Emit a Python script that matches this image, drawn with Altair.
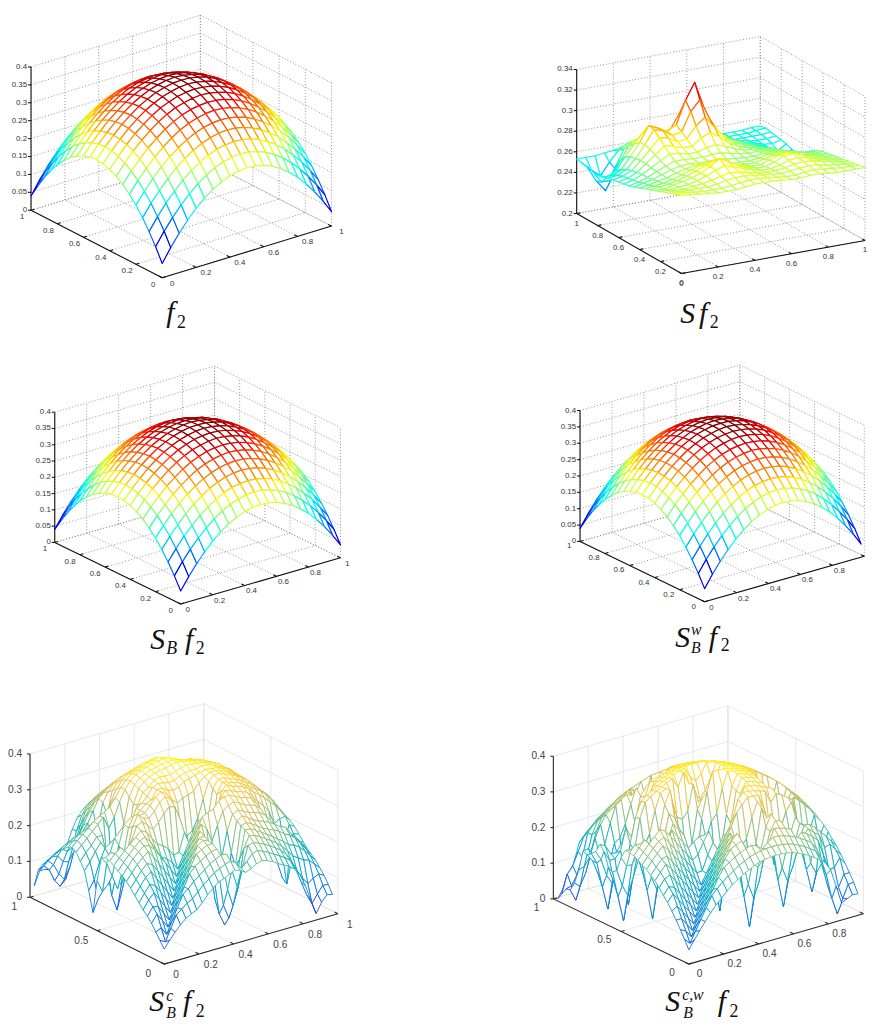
import altair as alt
import numpy as np
import pandas as pd

# ---------- surface heights, in thousandths ----------
DOME_QUAD = [
 [385,384,379,372,361,348,331,312,289,264,235],
 [384,382,377,370,359,346,329,310,287,262,233],
 [379,377,373,365,355,341,324,305,282,256,227],
 [372,370,365,358,347,333,316,296,273,247,217],
 [361,359,355,347,336,322,304,284,260,234,204],
 [348,346,341,333,322,307,289,268,244,217,186],
 [331,329,324,316,304,289,271,250,225,196,165],
 [312,310,305,296,284,268,250,227,201,172,139],
 [289,287,282,273,260,244,225,201,175,144,110],
 [264,262,256,247,234,217,196,172,144,113,77],
 [235,233,227,217,204,186,165,139,110,77,40],
]
SF2 = [
 [276,275,274,273,272,272,272,273,274,274,274,273,272,272,273,273,272,271,271,271,271],
 [274,274,273,272,272,272,273,274,275,275,274,273,272,272,273,274,273,272,271,271,270],
 [272,272,272,272,272,273,275,276,276,275,274,273,272,273,274,275,274,272,271,270,269],
 [270,270,270,271,272,274,276,278,277,275,273,272,272,273,275,276,275,273,271,269,268],
 [268,268,269,270,272,275,279,282,279,276,273,271,271,273,276,277,275,272,270,268,267],
 [266,266,268,270,272,275,280,286,281,276,272,270,270,273,277,278,275,271,269,267,266],
 [264,265,266,268,271,274,278,281,278,274,271,269,269,272,275,276,273,270,268,266,265],
 [262,263,264,266,269,272,275,276,274,271,269,268,268,270,272,273,271,268,266,265,264],
 [260,261,263,265,268,270,272,272,271,270,268,267,267,268,270,270,269,267,265,263,263],
 [258,260,262,265,268,270,271,270,270,270,269,268,267,267,268,268,267,265,263,261,261],
 [256,258,261,265,269,272,272,271,271,272,272,270,268,267,267,266,265,263,261,258,258],
 [255,257,261,266,271,276,275,273,273,276,277,274,270,267,266,264,263,261,258,252,254],
 [254,256,260,267,274,281,279,276,276,282,286,280,273,268,265,263,261,259,254,240,250],
 [253,255,259,267,276,286,284,279,280,291,298,287,276,269,265,262,259,257,250,226,246],
 [252,253,257,266,278,291,288,282,284,302,312,293,278,270,265,261,258,255,249,235,248],
 [250,250,254,265,277,292,288,283,288,310,326,300,280,270,264,260,257,254,250,245,250],
 [249,245,250,262,273,283,281,278,282,296,306,290,276,267,262,258,255,253,250,249,251],
 [250,238,238,255,268,274,274,273,275,280,284,279,271,264,259,256,254,252,251,251,252],
 [251,236,225,245,262,268,269,269,270,272,273,271,267,261,257,254,252,252,252,252,253],
 [252,244,236,248,258,263,265,265,266,267,268,266,263,258,255,253,252,252,252,253,254],
 [253,253,253,254,255,257,259,260,261,262,263,262,260,257,255,253,252,252,252,253,253],
]
SBC = [
 [42,62,80,96,110,118,125,140,158,172,185,190,198,205,200,190,196,205,210,205,198,188,180,172,160,140,105,60,18,45,62,58],
 [60,52,85,118,130,142,150,165,180,192,205,212,220,225,215,195,210,228,232,225,218,208,200,190,178,150,110,70,40,62,82,80],
 [78,85,62,95,128,161,172,188,200,212,224,232,240,238,190,140,190,245,248,242,235,226,216,205,190,165,135,110,90,100,108,100],
 [96,118,95,72,105,138,171,204,220,230,240,248,250,220,130,80,130,230,262,258,250,240,230,220,205,190,170,160,150,145,130,115],
 [110,132,128,105,82,115,148,181,214,244,252,260,260,190,80,40,85,195,272,270,262,252,242,232,220,210,195,190,180,165,148,130],
 [122,145,161,138,115,92,125,158,191,224,257,268,262,160,50,15,55,170,278,282,274,264,254,246,240,232,220,212,200,180,160,140],
 [136,158,178,171,148,125,102,135,168,201,234,267,270,195,85,45,90,200,285,295,286,275,268,262,255,245,235,228,205,190,170,150],
 [150,172,192,204,181,158,135,112,145,178,211,244,277,250,180,110,185,255,298,305,298,290,285,280,270,250,225,170,60,130,165,165],
 [165,185,205,220,214,191,168,145,122,155,188,221,254,287,270,230,270,305,318,322,315,305,300,295,280,240,200,120,70,120,185,180],
 [178,198,216,232,244,224,201,178,155,132,165,198,231,264,297,305,310,328,335,335,328,320,316,310,290,250,238,180,120,160,205,195],
 [188,208,226,242,254,250,234,211,188,165,142,175,208,241,274,280,240,265,325,342,338,330,326,320,305,285,270,250,210,220,222,205],
 [195,215,232,248,262,268,250,225,200,190,175,152,185,218,250,180,125,150,250,335,348,340,335,330,320,305,295,280,265,250,230,212],
 [205,222,238,252,266,280,272,250,230,221,208,185,190,240,190,90,30,80,200,320,350,345,340,335,325,315,305,295,280,262,240,220],
 [212,228,240,225,250,288,295,280,265,280,300,315,310,270,150,110,85,140,240,330,352,352,345,340,332,322,312,300,285,270,250,228],
 [215,225,210,160,215,280,310,295,290,305,325,338,325,290,220,210,220,250,300,345,358,358,352,346,338,328,318,305,288,272,252,232],
 [210,190,150,110,190,270,300,295,300,315,335,345,335,315,300,310,315,320,340,352,360,360,355,350,340,330,320,305,290,272,255,235],
 [140,105,120,160,220,275,285,290,300,315,320,345,345,335,330,335,345,350,355,358,362,360,358,352,345,332,320,305,292,275,258,238],
 [45,80,140,190,235,250,230,265,300,310,325,345,352,350,345,348,355,360,362,362,365,365,360,352,345,335,322,308,295,278,260,240],
 [100,125,170,205,215,120,90,130,240,300,330,340,355,360,358,358,362,368,372,370,368,365,360,355,348,335,325,310,295,278,258,238],
 [150,170,195,215,180,60,15,70,200,295,335,350,358,365,368,370,375,378,376,372,368,365,360,352,345,335,322,308,292,275,258,238],
 [170,190,205,225,225,130,85,140,240,310,340,355,362,368,372,375,378,378,374,370,365,362,358,350,342,332,320,305,290,272,255,235],
 [190,205,220,235,250,265,230,255,295,325,345,358,365,370,375,378,380,378,372,365,360,358,352,345,335,325,312,298,282,265,248,230],
 [198,212,225,238,252,262,270,280,300,325,342,355,360,365,372,375,378,372,365,358,352,350,345,338,328,318,305,290,275,258,240,222],
 [192,205,218,225,235,210,170,215,285,315,335,348,352,358,365,368,370,365,358,350,345,342,338,330,320,310,298,282,268,250,232,215],
 [182,195,205,210,205,130,60,125,240,305,325,338,342,348,352,355,358,352,345,340,335,332,326,320,310,300,288,272,258,240,222,205],
 [170,182,190,195,195,180,130,190,270,295,315,325,330,335,338,340,342,338,332,328,325,320,315,308,298,288,276,262,246,230,212,195],
 [155,165,172,170,175,195,215,245,275,288,300,310,315,320,322,322,325,322,318,315,312,308,302,295,285,274,262,248,232,215,198,178],
 [140,150,155,145,150,175,205,235,258,272,285,295,302,305,308,310,312,310,305,302,298,295,288,280,270,260,248,235,218,202,185,165],
 [125,132,130,110,105,130,175,215,240,258,270,280,288,292,295,296,298,296,292,288,285,280,272,265,255,245,232,218,202,185,168,148],
 [108,115,100,70,50,80,140,190,225,242,255,265,272,276,280,282,284,282,278,275,270,265,258,250,240,228,215,202,185,168,150,130],
 [88,95,80,45,25,40,100,165,205,228,240,250,256,260,264,266,268,266,262,260,256,250,242,234,224,212,198,184,168,150,132,110],
 [38,75,75,70,70,85,125,165,195,212,225,232,240,245,248,250,252,250,248,245,240,232,225,216,206,194,180,165,148,130,110,88],
]
SBCW = [
 [40,63,85,106,126,144,158,174,187,197,208,215,223,229,232,234,235,234,232,229,223,215,208,197,187,174,150,100,48,55,62,60],
 [64,48,77,106,135,164,179,194,206,216,227,234,242,247,250,252,253,252,250,247,242,234,227,216,206,180,130,60,12,50,85,87],
 [85,77,56,85,114,143,172,201,224,234,244,252,259,264,258,245,258,269,268,264,259,252,244,234,224,200,150,90,55,75,108,108],
 [106,106,85,64,93,122,151,180,209,238,261,268,275,250,205,189,205,250,284,280,275,268,235,251,242,230,215,170,124,125,148,128],
 [126,135,114,93,72,101,130,159,188,217,246,275,290,210,140,97,140,210,270,295,290,207,190,196,230,246,232,219,180,185,166,147],
 [144,164,143,122,101,80,109,138,167,196,225,254,275,209,101,10,101,209,275,309,222,149,108,147,200,250,248,235,219,202,184,165],
 [158,178,172,151,130,109,88,117,146,175,204,233,262,228,150,105,150,228,324,291,216,110,30,109,196,249,240,130,98,120,175,178],
 [174,194,201,180,159,138,117,96,125,154,183,212,241,270,240,223,240,295,336,303,238,165,115,154,218,262,190,107,40,97,150,194],
 [188,207,225,209,188,167,146,125,104,133,162,191,220,249,278,313,330,347,346,343,303,241,226,231,275,298,212,145,105,130,170,207],
 [197,216,234,238,217,196,175,154,133,112,141,170,199,228,257,286,340,355,354,351,346,340,304,325,317,306,293,215,183,188,234,216],
 [208,227,244,261,246,225,204,183,162,141,120,149,178,207,236,241,258,320,362,359,355,348,342,334,258,240,243,291,277,261,244,227],
 [215,234,252,268,275,254,233,212,191,170,149,150,190,220,174,121,175,263,335,365,361,355,348,300,205,167,199,275,283,268,252,234],
 [223,241,259,275,290,283,262,241,220,199,178,190,220,246,117,15,118,250,338,371,367,361,355,261,171,100,165,233,290,275,259,241],
 [229,247,265,250,211,208,231,270,249,228,207,220,230,230,178,124,179,270,345,375,371,365,359,275,209,163,199,247,295,280,265,247],
 [232,250,248,205,146,108,157,241,278,257,236,182,133,186,210,253,272,338,381,378,374,368,362,354,272,253,257,313,299,284,268,250],
 [233,230,220,192,104,20,111,226,300,286,247,132,30,135,259,330,384,383,382,379,375,369,363,355,347,337,325,314,300,285,269,252],
 [207,180,179,203,146,109,158,244,320,356,264,183,134,188,280,310,290,310,345,380,376,370,364,356,348,338,326,315,301,286,270,253],
 [166,119,88,134,180,211,241,302,347,355,325,267,255,274,345,290,250,290,335,379,375,369,363,355,347,337,325,314,300,285,269,252],
 [155,82,10,92,198,283,324,336,346,354,362,368,340,378,341,309,290,309,341,378,374,368,362,354,346,336,324,313,299,284,268,250],
 [163,117,86,132,210,281,321,333,343,351,359,365,371,375,378,350,335,350,378,375,371,365,359,351,343,333,321,310,295,280,265,247],
 [200,172,172,190,250,218,212,235,310,346,355,361,367,371,374,375,376,375,374,371,367,361,355,346,338,328,316,305,290,275,259,241],
 [215,207,180,179,202,142,103,153,237,308,348,355,361,365,368,369,370,369,368,365,330,290,330,340,332,322,309,298,283,268,252,234],
 [190,163,115,88,133,97,15,105,217,302,342,348,330,359,362,363,364,363,362,359,355,348,342,334,326,315,303,291,277,261,244,227],
 [178,148,77,10,87,130,98,146,227,300,320,268,260,276,340,355,356,355,354,351,346,340,334,325,317,306,293,282,267,251,234,216],
 [170,148,107,80,122,180,190,225,275,317,258,205,171,209,272,347,348,347,346,343,338,332,326,317,308,298,285,273,258,242,225,207],
 [174,176,152,153,175,230,274,287,298,290,240,167,100,170,254,320,338,337,336,333,328,322,315,306,298,287,274,262,246,230,213,194],
 [115,121,142,190,225,248,260,273,285,294,241,194,165,189,257,325,326,325,324,320,316,309,302,294,285,273,260,248,232,215,197,178],
 [73,60,91,145,200,235,248,261,273,282,291,240,235,250,313,314,315,314,313,309,305,298,291,282,273,261,248,235,219,202,184,165],
 [48,15,61,125,185,219,232,246,258,267,276,283,268,295,299,300,301,300,299,295,290,283,276,267,258,246,232,219,203,185,166,147],
 [45,49,75,121,185,202,215,230,242,251,261,268,275,280,284,285,286,285,284,280,275,268,261,251,242,230,215,202,185,167,148,128],
 [25,76,95,130,167,184,197,212,224,234,244,252,259,264,268,269,270,269,268,264,259,252,244,234,224,212,197,184,167,148,129,108],
 [5,30,60,95,147,165,179,194,206,216,227,234,242,247,250,252,253,252,250,247,242,234,227,216,206,194,179,165,147,128,108,87],
]
for name, grid, n in (("SF2", SF2, 21), ("SBC", SBC, 32), ("SBCW", SBCW, 32)):
    assert len(grid) == n, name
    for k, row in enumerate(grid):
        assert len(row) == n, (name, k, len(row))

rows_half = DOME_QUAD[::-1] + DOME_QUAD[1:]
DOME = [r[::-1] + r[1:] for r in rows_half]

# ---------- tick labels ----------
Z_DENSE = ["0","0.05","0.1","0.15","0.2","0.25","0.3","0.35","0.4"]
Z_SF = ["0.2","0.22","0.24","0.26","0.28","0.3","0.32","0.34"]
Z_COARSE = ["0","0.1","0.2","0.3","0.4"]
T_ALL = ["0","0.2","0.4","0.6","0.8","1"]
T_NO1 = ["0","0.2","0.4","0.6","0.8"]
T_HALF = ["0","0.5","1"]

JET = ["#000080","#0000ff","#0080ff","#00ffff","#80ff80","#ffff00","#ff8000","#ff0000","#800000"]
PARULA = ["#352a87","#0f5cdd","#1481d6","#06a4ca","#2eb7a4","#87bf77","#d1bb59","#fec832","#f9fb0e"]

COLW = [430, 438]
ROWH = [334, 334, 348]
ROWY = [8, 342, 676]
COLX = [8, 438]

TOP_STYLE = dict(grid="#8a8a8a", dash=[1, 2], axis="#111111", text="#333333", fs=8, sw=1.2)
BOT_STYLE = dict(grid="#e2e2e2", dash=[1, 0], axis="#2a2a2a", text="#444444", fs=10.2, sw=0.85)

PANELS = [
 dict(col=0,row=0,O=(163,275),X=(334.3,222.7),Y=(30.3,206.7),h=145,zr=(0,.4),zt=Z_DENSE,xt=T_ALL,yt=T_ALL,
      grid=DOME,xm=1,clim=(.04,.385),cmap=JET,st=TOP_STYLE,xo=(10,6),yo=(-9,7),zo=-4,
      cap=[("f",167,320,30,"i"),("2",178,326,18,"r")]),
 dict(col=1,row=0,O=(688.3,270.7),X=(874,237.3),Y=(582.3,210),h=145.7,zr=(.2,.34),zt=Z_SF,xt=T_ALL,yt=T_ALL,
      grid=SF2,xm=1,clim=(.2,.326),cmap=JET,st=TOP_STYLE,xo=(0,10),yo=(0,11),zo=-4,
      cap=[("S",687,321,30,"i"),("f",706,321,30,"i"),("2",717,326,18,"r")]),
 dict(col=0,row=1,O=(181.7,605),X=(343.3,558.3),Y=(54.3,542.7),h=131.7,zr=(0,.4),zt=Z_DENSE,xt=T_ALL,yt=T_ALL,
      grid=DOME,xm=1,clim=(.04,.385),cmap=JET,st=TOP_STYLE,xo=(7,6),yo=(-10,7),zo=-4,
      cap=[("S",151,651,30,"i"),("B",167,656,18,"i"),("f",186,651,30,"i"),("2",197,656,18,"r")]),
 dict(col=1,row=1,O=(711.7,602.7),X=(873.3,556.7),Y=(585.7,541.7),h=132.4,zr=(0,.4),zt=Z_DENSE,xt=T_NO1,yt=T_ALL,
      grid=DOME,xm=.98,clim=(.04,.385),cmap=JET,st=TOP_STYLE,xo=(7,6),yo=(-11,5),zo=-4,
      cap=[("S",682,648,30,"i"),("w",698,636,16,"i"),("B",698,655,16,"i"),("f",716,648,30,"i"),("2",728,653,18,"r")]),
 dict(col=0,row=2,O=(165,969.3),X=(340.7,918.3),Y=(29.3,901.7),h=145,zr=(0,.4),zt=Z_COARSE,xt=T_ALL,yt=T_HALF,
      grid=SBC,xm=31/32,clim=(.01,.38),cmap=PARULA,st=BOT_STYLE,xo=(12,11),yo=(-16,10),zo=-8,
      cap=[("S",150,1017,30,"i"),("c",167,1007,16,"i"),("B",167,1024,16,"i"),("f",184,1017,30,"i"),("2",197,1023,18,"r")]),
 dict(col=1,row=2,O=(695.7,969.3),X=(872.3,918.3),Y=(558.7,903.3),h=144.3,zr=(0,.4),zt=Z_COARSE,xt=T_NO1,yt=T_HALF,
      grid=SBCW,xm=31/32,clim=(.0,.385),cmap=PARULA,st=BOT_STYLE,xo=(11,10),yo=(-17,9),zo=-8,
      cap=[("S",672,1017,30,"i"),("c,w",689,1006,16,"i"),("B",690,1024,16,"i"),("f",725,1017,30,"i"),("2",737,1023,18,"r")]),
]


def build(p):
    ox, oy = COLX[p["col"]], ROWY[p["row"]]
    w, h = COLW[p["col"]], ROWH[p["row"]]
    O, X, Y = np.array(p["O"], float), np.array(p["X"], float), np.array(p["Y"], float)
    z0, z1 = p["zr"]

    def pr(a, b, c):
        q = O + a * (X - O) + b * (Y - O)
        q = q + np.array([0.0, -p["h"] * (c - z0) / (z1 - z0)])
        return (float(q[0] - ox), float(q[1] - oy))

    sx = alt.Scale(domain=[0, w], nice=False, zero=False)
    sy = alt.Scale(domain=[h, 0], nice=False, zero=False)
    xenc = alt.X("x:Q", scale=sx, axis=None)
    yenc = alt.Y("y:Q", scale=sy, axis=None)

    xv = [float(t) for t in p["xt"]]
    if xv[-1] < 1:
        xv = xv + [1.0]
    yv = [float(t) for t in p["yt"]]
    zv = [float(t) for t in p["zt"]]

    seg = []

    def add(rows, a, b):
        pa, pb = pr(*a), pr(*b)
        rows.append(dict(x=pa[0], y=pa[1], x2=pb[0], y2=pb[1]))

    for v in xv:
        add(seg, (v, 0, z0), (v, 1, z0))
        add(seg, (v, 1, z0), (v, 1, z1))
    for v in yv:
        add(seg, (0, v, z0), (1, v, z0))
        add(seg, (1, v, z0), (1, v, z1))
    for v in zv:
        add(seg, (0, 1, v), (1, 1, v))
        add(seg, (1, 1, v), (1, 0, v))

    st = p["st"]
    rule = lambda df, **kw: alt.Chart(df).mark_rule(**kw).encode(x=xenc, y=yenc, x2="x2:Q", y2="y2:Q")
    gridl = rule(pd.DataFrame(seg), color=st["grid"], strokeWidth=0.9, strokeDash=st["dash"])

    ax = []
    add(ax, (0, 0, z0), (1, 0, z0))
    add(ax, (0, 0, z0), (0, 1, z0))
    add(ax, (0, 1, z0), (0, 1, z1))
    for v in xv:
        add(ax, (v, 0, z0), (v, 0.025, z0))
    for v in yv:
        add(ax, (0, v, z0), (0.02, v, z0))
    for v in zv:
        a = pr(0, 1, v)
        ax.append(dict(x=a[0] - 3, y=a[1], x2=a[0], y2=a[1]))
    axes = rule(pd.DataFrame(ax), color=st["axis"], strokeWidth=1.1)

    # surface cells, painted from the far corner to the near one
    G = p["grid"]
    n = len(G)
    feats = []
    for j in range(n - 2, -1, -1):
        for i in range(n - 2, -1, -1):
            cs = [(i, j), (i + 1, j), (i + 1, j + 1), (i, j + 1)]
            ring = [list(pr(a * p["xm"] / (n - 1) if n == 21 else a / 32,
                            b / (n - 1) if n == 21 else b / 32,
                            G[b][a] / 1000)) for a, b in cs]
            ring.append(ring[0])
            zm = sum(G[b][a] for a, b in cs) / 4000
            feats.append(dict(type="Feature", properties=dict(z=zm),
                              geometry=dict(type="Polygon", coordinates=[ring])))
    cd = list(np.linspace(p["clim"][0], p["clim"][1], 9))
    surf = (alt.Chart(alt.Data(values=feats))
            .mark_geoshape(fill="white", strokeWidth=st["sw"], strokeJoin="round")
            .encode(stroke=alt.Stroke("properties.z:Q", legend=None,
                                      scale=alt.Scale(domain=cd, range=p["cmap"])))
            .project(type="identity", scale=1, translate=[0, 0]))

    lab = []
    for t, v in zip(p["xt"], [float(t) for t in p["xt"]]):
        q = pr(v, 0, z0)
        lab.append(dict(x=q[0] + p["xo"][0], y=q[1] + p["xo"][1], t=t))
    for t, v in zip(p["yt"], yv):
        q = pr(0, v, z0)
        lab.append(dict(x=q[0] + p["yo"][0], y=q[1] + p["yo"][1], t=t))
    labels = alt.Chart(pd.DataFrame(lab)).mark_text(
        font="Liberation Sans", fontSize=st["fs"], color=st["text"], align="center", baseline="middle"
    ).encode(x=xenc, y=yenc, text="t:N")
    zl = []
    for t, v in zip(p["zt"], zv):
        q = pr(0, 1, v)
        zl.append(dict(x=q[0] + p["zo"], y=q[1], t=t))
    zlabels = alt.Chart(pd.DataFrame(zl)).mark_text(
        font="Liberation Sans", fontSize=st["fs"], color=st["text"], align="right", baseline="middle"
    ).encode(x=xenc, y=yenc, text="t:N")

    caps = pd.DataFrame([dict(t=c[0], x=c[1] - ox, y=c[2] - oy, s=c[3], k=c[4]) for c in p["cap"]])
    layers = [gridl, axes, surf, labels, zlabels]
    for k, style in (("i", "italic"), ("r", "normal")):
        sub = caps[caps.k == k]
        if len(sub):
            layers.append(alt.Chart(sub).mark_text(
                font="Liberation Serif", fontStyle=style, color="#111111", align="left", baseline="alphabetic"
            ).encode(x=xenc, y=yenc, text="t:N", size=alt.Size("s:Q", scale=None, legend=None)))
    return alt.layer(*layers).properties(width=w, height=h)


charts = [build(p) for p in PANELS]
chart = (alt.concat(*charts, columns=2, spacing=0, bounds="flush")
         .resolve_scale(stroke="independent")
         .properties(padding=0, background="white")
         .configure_view(stroke=None))
chart.save("out.html", embed_options={"renderer": "svg", "actions": False})
